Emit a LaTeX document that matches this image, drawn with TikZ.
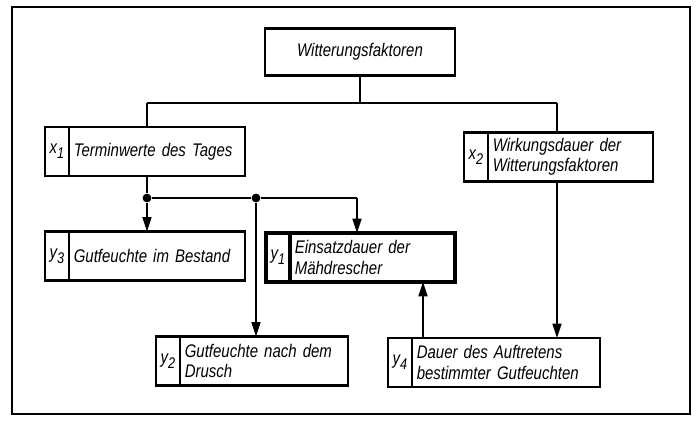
\documentclass[tikz,border=0pt]{standalone}
\usepackage{fontspec}
\setmainfont[FakeStretch=0.82]{Liberation Sans}
\usetikzlibrary{arrows.meta,positioning}
\newcommand{\vsub}[2]{#1\raisebox{-0.55ex}{\fontsize{11}{11}\selectfont #2}}

\begin{document}
\begin{tikzpicture}[x=0.025cm, y=-0.025cm,
  every node/.style={font=\itshape\fontsize{13}{14.5}\selectfont},
  head/.style={draw, line width=1.6pt, minimum width=4.75cm, minimum height=1.175cm,
               outer sep=0pt},
  idx/.style={draw, line width=1.6pt, minimum width=0.6cm, minimum height=1.22cm,
              inner sep=0pt, outer sep=0pt, anchor=west},
  desc/.style={draw, line width=1.6pt, minimum height=1.22cm, inner xsep=0.12cm,
               outer sep=0pt, align=left},
  strong/.style={line width=2.4pt},
  line/.style={line width=1.6pt},
  flow/.style={line width=1.6pt, -{Triangle[length=3.6mm, width=2.2mm]}},
  dot/.style={circle, fill, inner sep=0pt, minimum size=2.2mm}
]
  \useasboundingbox (0,0) rectangle (698,424);
  \draw[line width=1.8pt] (12,7) rectangle (690,414);

  \node[head] (top) at (360,52) {Witterungsfaktoren};

  \node[idx]  (x1i) at (45,151.5) {\vsub{x}{1}};
  \node[desc, text width=4.16cm, right=0pt of x1i] (x1t) {Terminwerte des Tages};

  \node[idx]  (x2i) at (464,157) {\vsub{x}{2}};
  \node[desc, text width=3.885cm, right=0pt of x2i] (x2t) {Wirkungsdauer der\\Witterungsfaktoren};

  \node[idx]  (y3i) at (45,256) {\vsub{y}{3}};
  \node[desc, text width=4.16cm, right=0pt of y3i] (y3t) {Gutfeuchte im Bestand};

  \node[idx, strong]  (y1i) at (266,257.5) {\vsub{y}{1}};
  \node[desc, strong, text width=3.885cm, right=0pt of y1i] (y1t) {Einsatzdauer der\\Mähdrescher};

  \node[idx]  (y2i) at (156,361) {\vsub{y}{2}};
  \node[desc, text width=3.96cm, right=0pt of y2i] (y2t) {Gutfeuchte nach dem\\Drusch};

  \node[idx]  (y4i) at (388,362.5) {\vsub{y}{4}};
  \node[desc, text width=4.46cm, right=0pt of y4i] (y4t) {Dauer des Auftretens\\bestimmter Gutfeuchten};

  % Verzweigungen
  \coordinate (jl) at (147,103);
  \coordinate (jr) at (557,103);
  \coordinate (k1) at (357,198);
  \coordinate (u)  at (423,338);
  \node[dot] (d1) at (147,198) {};
  \node[dot] (d2) at (256,198) {};

  \draw[line] (top.south) -- (top.south |- jl);
  \draw[line] (jl) -- (jr);
  \draw[line] (jl) -- (jl |- x1t.north);
  \draw[line] (jr) -- (jr |- x2t.north);
  \draw[line] (jl |- x1t.south) -- (d1);
  \draw[line] (d1) -- (d2) -- (k1);
  \draw[flow] (d1) -- (d1 |- y3t.north);
  \draw[flow] (k1) -- (k1 |- y1t.north);
  \draw[flow] (d2) -- (d2 |- y2t.north);
  \draw[flow] (jr |- x2t.south) -- (jr |- y4t.north);
  \draw[flow] (u |- y4t.north) -- (u |- y1t.south);
\end{tikzpicture}
\end{document}
